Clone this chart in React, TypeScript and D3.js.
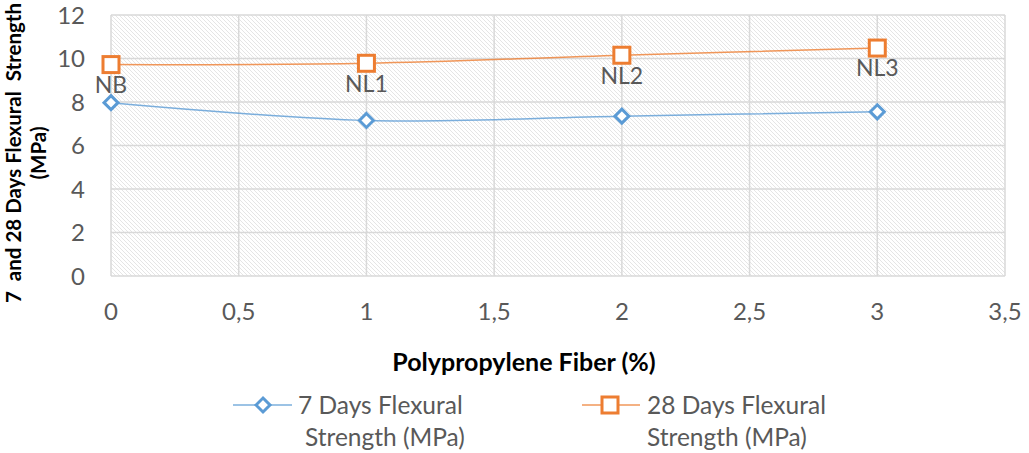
import React from 'react';
import * as d3 from 'd3';

// data
const fiberPct = [0, 1, 2, 3];
const pointLabels = ['NB', 'NL1', 'NL2', 'NL3'];
const days7 = [7.97, 7.15, 7.35, 7.55];
const days28 = [9.72, 9.78, 10.15, 10.48];
const xTicks = [0, 0.5, 1, 1.5, 2, 2.5, 3, 3.5];
const yTicks = [0, 2, 4, 6, 8, 10, 12];

const W = 1029;
const H = 453;
const FONT = 'Lato, "Open Sans", sans-serif';
const BLUE = '#5b9bd5';
const ORANGE = '#ed7d31';
const TXT = '#595959';

export default function App() {
  const plot = { left: 111, right: 1005, top: 15, bottom: 276 };
  const x = d3.scaleLinear().domain([0, 3.5]).range([plot.left, plot.right]);
  const y = d3.scaleLinear().domain([0, 12]).range([plot.bottom, plot.top]);

  const line = d3.line<number>()
    .x((_, i) => x(fiberPct[i]))
    .y(d => y(d))
    .curve(d3.curveCatmullRom.alpha(0.5));

  const diamond = (cx: number, cy: number, r: number) =>
    `M${cx},${cy - r}L${cx + r},${cy}L${cx},${cy + r}L${cx - r},${cy}Z`;

  return (
    <svg width={W} height={H} style={{ position: 'absolute', left: 0, top: 0, background: '#fff' }}>
      <defs>
        <pattern id="hatch" width="4" height="4" patternUnits="userSpaceOnUse">
          <path d="M-1,-1L5,5M-1,3L1,5M3,-1L5,1" stroke="#e2e2e2" strokeWidth="0.9" />
        </pattern>
      </defs>

      {/* hatched plot background */}
      <rect x={plot.left} y={plot.top} width={plot.right - plot.left} height={plot.bottom - plot.top} fill="url(#hatch)" />

      {/* gridlines */}
      {yTicks.map(t => (
        <line key={'gy' + t} x1={plot.left} x2={plot.right} y1={y(t)} y2={y(t)} stroke="#d9d9d9" strokeWidth={1.5} />
      ))}
      {xTicks.map(t => (
        <line key={'gx' + t} x1={x(t)} x2={x(t)} y1={plot.top} y2={plot.bottom} stroke="#d9d9d9" strokeWidth={1.5} />
      ))}

      {/* tick labels */}
      {yTicks.map(t => (
        <text key={'ty' + t} x={85} y={y(t)} dy="0.36em" textAnchor="end" fontFamily={FONT} fontSize={24} fill={TXT}>{t}</text>
      ))}
      {xTicks.map(t => (
        <text key={'tx' + t} x={x(t)} y={311} dy="0.36em" textAnchor="middle" fontFamily={FONT} fontSize={24} fill={TXT}>
          {String(t).replace('.', ',')}
        </text>
      ))}

      {/* series lines */}
      <path d={line(days7) || ''} fill="none" stroke={BLUE} strokeWidth={1.5} strokeOpacity={0.8} />
      <path d={line(days28) || ''} fill="none" stroke={ORANGE} strokeWidth={1.5} strokeOpacity={0.8} />

      {/* markers */}
      {days7.map((v, i) => (
        <path key={'d' + i} d={diamond(x(fiberPct[i]), y(v), 7)} fill="#fff" stroke={BLUE} strokeWidth={3} />
      ))}
      {days28.map((v, i) => (
        <rect key={'s' + i} x={x(fiberPct[i]) - 8} y={y(v) - 8} width={16} height={16} fill="#fff" stroke={ORANGE} strokeWidth={3} />
      ))}

      {/* point labels */}
      {days28.map((v, i) => (
        <text key={'l' + i} x={x(fiberPct[i])} y={y(v) + 20} dy="0.36em" textAnchor="middle" fontFamily={FONT} fontSize={23} fill={TXT}>
          {pointLabels[i]}
        </text>
      ))}

      {/* axis titles */}
      <text x={524} y={362} dy="0.36em" textAnchor="middle" fontFamily={FONT} fontSize={25} fontWeight="bold" fill="#000">
        Polypropylene Fiber (%)
      </text>
      <g transform="translate(14,153) rotate(-90)">
        <text x={0} y={0} dy="0.36em" textAnchor="middle" fontFamily={FONT} fontSize={20.5} fontWeight="bold" fill="#000" style={{ whiteSpace: 'pre' }}>
          {'7  and 28 Days Flexural  Strength'}
        </text>
        <text x={0} y={25} dy="0.36em" textAnchor="middle" fontFamily={FONT} fontSize={20.5} fontWeight="bold" fill="#000">
          (MPa)
        </text>
      </g>

      {/* legend */}
      <g>
        <line x1={233} x2={292} y1={405} y2={405} stroke={BLUE} strokeWidth={1.5} strokeOpacity={0.8} />
        <path d={diamond(263, 405, 7)} fill="#fff" stroke={BLUE} strokeWidth={3} />
        <text x={298} y={405} dy="0.36em" fontFamily={FONT} fontSize={24.5} fill={TXT}>7 Days Flexural</text>
        <text x={305} y={437} dy="0.36em" fontFamily={FONT} fontSize={24.5} fill={TXT}>Strength (MPa)</text>

        <line x1={582} x2={640} y1={405} y2={405} stroke={ORANGE} strokeWidth={1.5} strokeOpacity={0.8} />
        <rect x={602} y={397} width={16} height={16} fill="#fff" stroke={ORANGE} strokeWidth={3} />
        <text x={647} y={405} dy="0.36em" fontFamily={FONT} fontSize={24.5} fill={TXT}>28 Days Flexural</text>
        <text x={647} y={437} dy="0.36em" fontFamily={FONT} fontSize={24.5} fill={TXT}>Strength (MPa)</text>
      </g>
    </svg>
  );
}
